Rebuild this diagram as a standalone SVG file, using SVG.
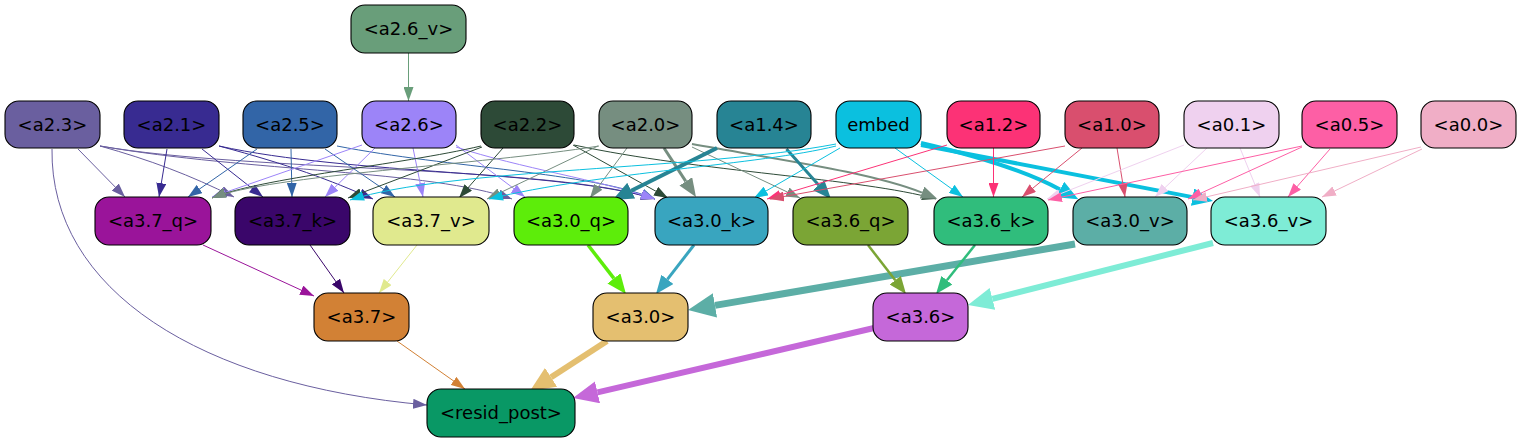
<svg xmlns="http://www.w3.org/2000/svg" width="1521" height="443" viewBox="0 0 1521 443">
<style>
.node rect{stroke:#000;stroke-width:1.1}
.node text{font-family:"DejaVu Sans","Liberation Sans",sans-serif;font-size:18px;text-anchor:middle;fill:#000}
.e{fill:none;stroke-width:1}
.s-a23{stroke:#6a5f9f}.s-a21{stroke:#382b91}.s-a25{stroke:#3265a7}.s-a26{stroke:#9c84f8}
.s-a22{stroke:#2d4a37}.s-a20{stroke:#768e80}.s-a14{stroke:#278494}.s-emb{stroke:#0bc0df}
.s-a12{stroke:#fc3276}.s-a10{stroke:#d94f6e}.s-a01{stroke:#efd1ef}.s-a05{stroke:#fd5fa5}
.s-a00{stroke:#f0aec6}.s-a26v{stroke:#699e7a}.s-a37q{stroke:#9a149a}.s-a37k{stroke:#3a066a}
.s-a37v{stroke:#e0e98e}.s-a30q{stroke:#5ded0a}.s-a30k{stroke:#39a5bf}.s-a30v{stroke:#5caea6}
.s-a36q{stroke:#7ba535}.s-a36k{stroke:#30bd7c}.s-a36v{stroke:#7eecd6}.s-a37{stroke:#d28135}
.s-a30{stroke:#e4bf70}.s-a36{stroke:#c568d9}
</style>
<defs>
<marker id="m-a23" markerUnits="userSpaceOnUse" orient="auto" markerWidth="14" markerHeight="10" refX="14" refY="5"><path d="M0,0L14,5L0,10z" fill="#6a5f9f"/></marker>
<marker id="m-a21" markerUnits="userSpaceOnUse" orient="auto" markerWidth="14" markerHeight="10" refX="14" refY="5"><path d="M0,0L14,5L0,10z" fill="#382b91"/></marker>
<marker id="m-a25" markerUnits="userSpaceOnUse" orient="auto" markerWidth="14" markerHeight="10" refX="14" refY="5"><path d="M0,0L14,5L0,10z" fill="#3265a7"/></marker>
<marker id="m-a26" markerUnits="userSpaceOnUse" orient="auto" markerWidth="14" markerHeight="10" refX="14" refY="5"><path d="M0,0L14,5L0,10z" fill="#9c84f8"/></marker>
<marker id="m-a22" markerUnits="userSpaceOnUse" orient="auto" markerWidth="14" markerHeight="10" refX="14" refY="5"><path d="M0,0L14,5L0,10z" fill="#2d4a37"/></marker>
<marker id="m-a20" markerUnits="userSpaceOnUse" orient="auto" markerWidth="14" markerHeight="10" refX="14" refY="5"><path d="M0,0L14,5L0,10z" fill="#768e80"/></marker>
<marker id="m-emb" markerUnits="userSpaceOnUse" orient="auto" markerWidth="14" markerHeight="10" refX="14" refY="5"><path d="M0,0L14,5L0,10z" fill="#0bc0df"/></marker>
<marker id="m-a12" markerUnits="userSpaceOnUse" orient="auto" markerWidth="14" markerHeight="10" refX="14" refY="5"><path d="M0,0L14,5L0,10z" fill="#fc3276"/></marker>
<marker id="m-a10" markerUnits="userSpaceOnUse" orient="auto" markerWidth="14" markerHeight="10" refX="14" refY="5"><path d="M0,0L14,5L0,10z" fill="#d94f6e"/></marker>
<marker id="m-a01" markerUnits="userSpaceOnUse" orient="auto" markerWidth="14" markerHeight="10" refX="14" refY="5"><path d="M0,0L14,5L0,10z" fill="#efd1ef"/></marker>
<marker id="m-a05" markerUnits="userSpaceOnUse" orient="auto" markerWidth="14" markerHeight="10" refX="14" refY="5"><path d="M0,0L14,5L0,10z" fill="#fd5fa5"/></marker>
<marker id="m-a00" markerUnits="userSpaceOnUse" orient="auto" markerWidth="14" markerHeight="10" refX="14" refY="5"><path d="M0,0L14,5L0,10z" fill="#f0aec6"/></marker>
<marker id="m-a26v" markerUnits="userSpaceOnUse" orient="auto" markerWidth="14" markerHeight="10" refX="14" refY="5"><path d="M0,0L14,5L0,10z" fill="#699e7a"/></marker>
<marker id="m-a37q" markerUnits="userSpaceOnUse" orient="auto" markerWidth="14" markerHeight="10" refX="14" refY="5"><path d="M0,0L14,5L0,10z" fill="#9a149a"/></marker>
<marker id="m-a37k" markerUnits="userSpaceOnUse" orient="auto" markerWidth="14" markerHeight="10" refX="14" refY="5"><path d="M0,0L14,5L0,10z" fill="#3a066a"/></marker>
<marker id="m-a37v" markerUnits="userSpaceOnUse" orient="auto" markerWidth="14" markerHeight="10" refX="14" refY="5"><path d="M0,0L14,5L0,10z" fill="#e0e98e"/></marker>
<marker id="m-a37" markerUnits="userSpaceOnUse" orient="auto" markerWidth="14" markerHeight="10" refX="14" refY="5"><path d="M0,0L14,5L0,10z" fill="#d28135"/></marker>
<marker id="M-a20-3" markerUnits="userSpaceOnUse" orient="auto" markerWidth="19" markerHeight="16" refX="0" refY="7.6"><path d="M0,0L18.6,7.6L0,15.2z" fill="#768e80"/></marker>
<marker id="M-a20-2" markerUnits="userSpaceOnUse" orient="auto" markerWidth="17" markerHeight="13" refX="0" refY="6.4"><path d="M0,0L16.4,6.4L0,12.8z" fill="#768e80"/></marker>
<marker id="M-a14-4" markerUnits="userSpaceOnUse" orient="auto" markerWidth="21" markerHeight="18" refX="0" refY="8.8"><path d="M0,0L20.8,8.8L0,17.6z" fill="#278494"/></marker>
<marker id="M-a14-3" markerUnits="userSpaceOnUse" orient="auto" markerWidth="19" markerHeight="16" refX="0" refY="7.6"><path d="M0,0L18.6,7.6L0,15.2z" fill="#278494"/></marker>
<marker id="M-emb-4" markerUnits="userSpaceOnUse" orient="auto" markerWidth="21" markerHeight="18" refX="0" refY="8.8"><path d="M0,0L20.8,8.8L0,17.6z" fill="#0bc0df"/></marker>
<marker id="M-a30q" markerUnits="userSpaceOnUse" orient="auto" markerWidth="20" markerHeight="17" refX="0" refY="8.2"><path d="M0,0L19.7,8.2L0,16.4z" fill="#5ded0a"/></marker>
<marker id="M-a30k" markerUnits="userSpaceOnUse" orient="auto" markerWidth="19" markerHeight="16" refX="0" refY="7.6"><path d="M0,0L18.6,7.6L0,15.2z" fill="#39a5bf"/></marker>
<marker id="M-a30v" markerUnits="userSpaceOnUse" orient="auto" markerWidth="28" markerHeight="25" refX="0" refY="12.4"><path d="M0,0L27.4,12.4L0,24.8z" fill="#5caea6"/></marker>
<marker id="M-a36q" markerUnits="userSpaceOnUse" orient="auto" markerWidth="18" markerHeight="14" refX="0" refY="7"><path d="M0,0L17.5,7L0,14z" fill="#7ba535"/></marker>
<marker id="M-a36k" markerUnits="userSpaceOnUse" orient="auto" markerWidth="18" markerHeight="14" refX="0" refY="7"><path d="M0,0L17.5,7L0,14z" fill="#30bd7c"/></marker>
<marker id="M-a36v" markerUnits="userSpaceOnUse" orient="auto" markerWidth="26" markerHeight="23" refX="0" refY="11.2"><path d="M0,0L25.2,11.2L0,22.4z" fill="#7eecd6"/></marker>
<marker id="M-a30" markerUnits="userSpaceOnUse" orient="auto" markerWidth="26" markerHeight="23" refX="0" refY="11.2"><path d="M0,0L25.2,11.2L0,22.4z" fill="#e4bf70"/></marker>
<marker id="M-a36" markerUnits="userSpaceOnUse" orient="auto" markerWidth="26" markerHeight="23" refX="0" refY="11.2"><path d="M0,0L25.2,11.2L0,22.4z" fill="#c568d9"/></marker>
</defs>
<rect width="1521" height="443" fill="#fff"/>
<g id="connectors">
<path class="e s-a26v" marker-end="url(#m-a26v)" d="M408.5,53L408.5,101"/>
<path class="e s-a23" marker-end="url(#m-a23)" d="M78,149L125,197"/>
<path class="e s-a23" marker-end="url(#m-a23)" d="M100,146C150,160 190,175 234,197"/>
<path class="e s-a23" marker-end="url(#m-a23)" d="M100,146C250,172 430,170 512,199"/>
<path class="e s-a23" marker-end="url(#m-a23)" d="M100,146C250,172 550,165 655,199"/>
<path class="e s-a23" marker-end="url(#m-a23)" d="M52,149C50,290 200,385 427,405"/>
<path class="e s-a21" marker-end="url(#m-a21)" d="M167,149L159,197"/>
<path class="e s-a21" marker-end="url(#m-a21)" d="M202,149L263,197"/>
<path class="e s-a21" marker-end="url(#m-a21)" d="M219,146C290,165 330,180 373,199"/>
<path class="e s-a21" marker-end="url(#m-a21)" d="M219,146C350,175 560,170 655,199"/>
<path class="e s-a25" marker-end="url(#m-a25)" d="M257,149L188,197"/>
<path class="e s-a25" marker-end="url(#m-a25)" d="M291,149L292,197"/>
<path class="e s-a25" marker-end="url(#m-a25)" d="M325,149L395,197"/>
<path class="e s-a25" marker-end="url(#m-a25)" d="M337,146C450,168 590,172 655,199"/>
<path class="e s-a26" marker-end="url(#m-a26)" d="M362,145L212,197"/>
<path class="e s-a26" marker-end="url(#m-a26)" d="M375,148L325,197"/>
<path class="e s-a26" marker-end="url(#m-a26)" d="M413,148L423,197"/>
<path class="e s-a26" marker-end="url(#m-a26)" d="M456,145L525,197"/>
<path class="e s-a26" marker-end="url(#m-a26)" d="M456,147C520,168 600,180 655,199"/>
<path class="e s-a22" marker-end="url(#m-a22)" d="M481,146C400,165 260,178 212,198"/>
<path class="e s-a22" marker-end="url(#m-a22)" d="M482,147L348,198"/>
<path class="e s-a22" marker-end="url(#m-a22)" d="M503,148L459,198"/>
<path class="e s-a22" marker-end="url(#m-a22)" d="M573,145L668,198"/>
<path class="e s-a22" marker-end="url(#m-a22)" d="M574,145C700,172 860,178 936,199"/>
<path class="e s-a20" marker-end="url(#m-a20)" d="M599,146C480,165 270,175 212,198"/>
<path class="e s-a20" marker-end="url(#m-a20)" d="M598,146L487,199"/>
<path class="e s-a20" marker-end="url(#m-a20)" d="M627,148L590,198"/>
<path class="e s-a20" marker-end="url(#m-a20)" d="M692,147L800,198"/>
<path class="e s-a20" style="stroke-width:3" marker-end="url(#M-a20-3)" d="M664,148L685.8,181.4"/>
<path class="e s-a20" style="stroke-width:2" marker-end="url(#M-a20-2)" d="M692,144C780,160 870,172 922,192.6"/>
<path class="e s-a14" style="stroke-width:4" marker-end="url(#M-a14-4)" d="M717,148L631.2,190.7"/>
<path class="e s-a14" style="stroke-width:3" marker-end="url(#M-a14-3)" d="M786.5,149L818.6,185.1"/>
<path class="e s-emb" marker-end="url(#m-emb)" d="M836,144C700,170 450,168 350,200"/>
<path class="e s-emb" marker-end="url(#m-emb)" d="M836,146C760,165 600,172 489,199"/>
<path class="e s-emb" marker-end="url(#m-emb)" d="M840,148L754,198"/>
<path class="e s-emb" marker-end="url(#m-emb)" d="M895,148L963,197"/>
<path class="e s-emb" style="stroke-width:4" marker-end="url(#M-emb-4)" d="M921,143C960,152 1020,168 1060,189.5"/>
<path class="e s-emb" style="stroke-width:4" marker-end="url(#M-emb-4)" d="M921,145L1192.6,197.1"/>
<path class="e s-a12" marker-end="url(#m-a12)" d="M947,145L767,199"/>
<path class="e s-a12" marker-end="url(#m-a12)" d="M993.5,148L993.5,197"/>
<path class="e s-a10" marker-end="url(#m-a10)" d="M1065,146L770,199"/>
<path class="e s-a10" marker-end="url(#m-a10)" d="M1082,148L1022,197"/>
<path class="e s-a10" marker-end="url(#m-a10)" d="M1117,148L1125,197"/>
<path class="e s-a01" marker-end="url(#m-a01)" d="M1184,145L1047,199"/>
<path class="e s-a01" marker-end="url(#m-a01)" d="M1207,148L1155,197"/>
<path class="e s-a01" marker-end="url(#m-a01)" d="M1240,148L1260,197"/>
<path class="e s-a05" marker-end="url(#m-a05)" d="M1302,146L1048,200"/>
<path class="e s-a05" marker-end="url(#m-a05)" d="M1302,147L1188,199"/>
<path class="e s-a05" marker-end="url(#m-a05)" d="M1330,149L1288,197"/>
<path class="e s-a00" marker-end="url(#m-a00)" d="M1421,147L1193,200"/>
<path class="e s-a00" marker-end="url(#m-a00)" d="M1422,149L1322,197"/>
<path class="e s-a37q" marker-end="url(#m-a37q)" d="M203,245L314,296"/>
<path class="e s-a37k" marker-end="url(#m-a37k)" d="M310,245L344,293"/>
<path class="e s-a37v" marker-end="url(#m-a37v)" d="M417,245L379,293"/>
<path class="e s-a30q" style="stroke-width:3.5" marker-end="url(#M-a30q)" d="M588,245L613.9,278.4"/>
<path class="e s-a30k" style="stroke-width:3" marker-end="url(#M-a30k)" d="M694,245L667.4,279.3"/>
<path class="e s-a30v" style="stroke-width:7" marker-end="url(#M-a30v)" d="M1075,244L715,305.4"/>
<path class="e s-a36q" style="stroke-width:2.5" marker-end="url(#M-a36q)" d="M868,245L895.3,280.2"/>
<path class="e s-a36k" style="stroke-width:2.5" marker-end="url(#M-a36k)" d="M975,245L946.9,280.3"/>
<path class="e s-a36v" style="stroke-width:6" marker-end="url(#M-a36v)" d="M1213,243L992.4,298.8"/>
<path class="e s-a37" marker-end="url(#m-a37)" d="M397,341L465,389"/>
<path class="e s-a30" style="stroke-width:6" marker-end="url(#M-a30)" d="M607,341L551.1,377.3"/>
<path class="e s-a36" style="stroke-width:6" marker-end="url(#M-a36)" d="M874,328L597.5,392.3"/>
</g>
<g id="a2_6_v" class="node"><rect x="351" y="5" width="115" height="48" rx="14" fill="#699e7a"/><text x="408.5" y="35">&lt;a2.6_v&gt;</text></g>
<g id="a2_3" class="node"><rect x="5" y="101" width="95" height="47" rx="14" fill="#6a5f9f"/><text x="52.5" y="130.5">&lt;a2.3&gt;</text></g>
<g id="a2_1" class="node"><rect x="124" y="101" width="95" height="47" rx="14" fill="#382b91"/><text x="171.5" y="130.5">&lt;a2.1&gt;</text></g>
<g id="a2_5" class="node"><rect x="243" y="101" width="94" height="47" rx="14" fill="#3265a7"/><text x="290" y="130.5">&lt;a2.5&gt;</text></g>
<g id="a2_6" class="node"><rect x="362" y="101" width="94" height="47" rx="14" fill="#9c84f8"/><text x="409" y="130.5">&lt;a2.6&gt;</text></g>
<g id="a2_2" class="node"><rect x="481" y="101" width="93" height="47" rx="14" fill="#2d4a37"/><text x="527.5" y="130.5">&lt;a2.2&gt;</text></g>
<g id="a2_0" class="node"><rect x="599" y="101" width="93" height="47" rx="14" fill="#768e80"/><text x="645.5" y="130.5">&lt;a2.0&gt;</text></g>
<g id="a1_4" class="node"><rect x="717" y="101" width="94" height="47" rx="14" fill="#278494"/><text x="764" y="130.5">&lt;a1.4&gt;</text></g>
<g id="embed" class="node"><rect x="836" y="101" width="85" height="47" rx="14" fill="#0bc0df"/><text x="878.5" y="130.5">embed</text></g>
<g id="a1_2" class="node"><rect x="947" y="101" width="93" height="47" rx="14" fill="#fc3276"/><text x="993.5" y="130.5">&lt;a1.2&gt;</text></g>
<g id="a1_0" class="node"><rect x="1065" y="101" width="94" height="47" rx="14" fill="#d94f6e"/><text x="1112" y="130.5">&lt;a1.0&gt;</text></g>
<g id="a0_1" class="node"><rect x="1184" y="101" width="95" height="47" rx="14" fill="#efd1ef"/><text x="1231.5" y="130.5">&lt;a0.1&gt;</text></g>
<g id="a0_5" class="node"><rect x="1302" y="101" width="95" height="47" rx="14" fill="#fd5fa5"/><text x="1349.5" y="130.5">&lt;a0.5&gt;</text></g>
<g id="a0_0" class="node"><rect x="1421" y="101" width="95" height="47" rx="14" fill="#f0aec6"/><text x="1468.5" y="130.5">&lt;a0.0&gt;</text></g>
<g id="a3_7_q" class="node"><rect x="95" y="197" width="116" height="48" rx="14" fill="#9a149a"/><text x="153" y="227">&lt;a3.7_q&gt;</text></g>
<g id="a3_7_k" class="node"><rect x="235" y="197" width="115" height="48" rx="14" fill="#3a066a"/><text x="292.5" y="227">&lt;a3.7_k&gt;</text></g>
<g id="a3_7_v" class="node"><rect x="373" y="197" width="116" height="48" rx="14" fill="#e0e98e"/><text x="431" y="227">&lt;a3.7_v&gt;</text></g>
<g id="a3_0_q" class="node"><rect x="514" y="197" width="114" height="48" rx="14" fill="#5ded0a"/><text x="571" y="227">&lt;a3.0_q&gt;</text></g>
<g id="a3_0_k" class="node"><rect x="655" y="197" width="113" height="48" rx="14" fill="#39a5bf"/><text x="711.5" y="227">&lt;a3.0_k&gt;</text></g>
<g id="a3_6_q" class="node"><rect x="793" y="197" width="115" height="48" rx="14" fill="#7ba535"/><text x="850.5" y="227">&lt;a3.6_q&gt;</text></g>
<g id="a3_6_k" class="node"><rect x="934" y="197" width="114" height="48" rx="14" fill="#30bd7c"/><text x="991" y="227">&lt;a3.6_k&gt;</text></g>
<g id="a3_0_v" class="node"><rect x="1073" y="197" width="114" height="48" rx="14" fill="#5caea6"/><text x="1130" y="227">&lt;a3.0_v&gt;</text></g>
<g id="a3_6_v" class="node"><rect x="1211" y="197" width="115" height="48" rx="14" fill="#7eecd6"/><text x="1268.5" y="227">&lt;a3.6_v&gt;</text></g>
<g id="a3_7" class="node"><rect x="314" y="293" width="95" height="48" rx="14" fill="#d28135"/><text x="361.5" y="323">&lt;a3.7&gt;</text></g>
<g id="a3_0" class="node"><rect x="593" y="293" width="95" height="48" rx="14" fill="#e4bf70"/><text x="640.5" y="323">&lt;a3.0&gt;</text></g>
<g id="a3_6" class="node"><rect x="873" y="293" width="95" height="48" rx="14" fill="#c568d9"/><text x="920.5" y="323">&lt;a3.6&gt;</text></g>
<g id="resid_post" class="node"><rect x="427" y="389" width="148" height="48" rx="14" fill="#099865"/><text x="501" y="419">&lt;resid_post&gt;</text></g>
</svg>
